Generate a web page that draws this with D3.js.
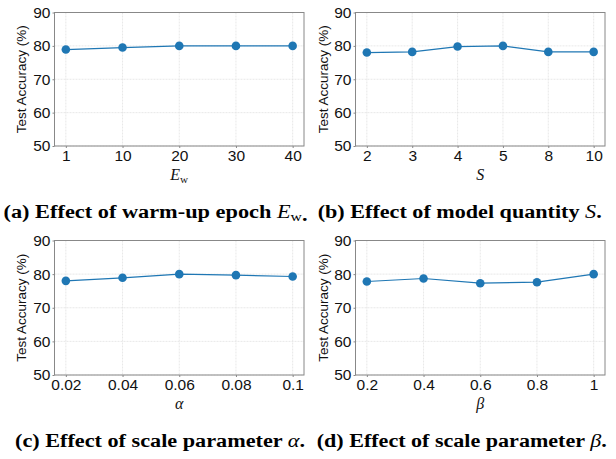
<!DOCTYPE html>
<html><head><meta charset="utf-8">
<script src="https://cdn.jsdelivr.net/npm/d3@7"></script>
<style>body{margin:0;background:#fff}svg{display:block}</style>
</head><body>
<script>
// ---- data ----
const ewTicks = ["1","10","20","30","40"];
const ewAcc = [78.9, 79.5, 80.0, 80.0, 80.0];
const sTicks = ["2","3","4","5","8","10"];
const sAcc = [78.0, 78.2, 79.8, 80.0, 78.2, 78.2];
const alphaTicks = ["0.02","0.04","0.06","0.08","0.1"];
const alphaAcc = [78.0, 78.9, 80.0, 79.7, 79.3];
const betaTicks = ["0.2","0.4","0.6","0.8","1"];
const betaAcc = [77.8, 78.7, 77.3, 77.6, 80.0];
const yTicks = [50, 60, 70, 80, 90];
const yLabel = "Test Accuracy (%)";

const W = 616, H = 459;
const svg = d3.select("body").append("svg").attr("width", W).attr("height", H);
const blue = "#1f77b4";

const panels = [
  {cats: ewTicks, vals: ewAcc, box: [54.5, 304, 12.5, 146], ylx: 21.5,
   xlab: [["E","it"],["w","sub"]],
   cap: [["(a) Effect of warm-up epoch ","b"],["E","it"],["w","sub"],[".","b"]], capX: 155.5, capY: 218, capW: 304},
  {cats: sTicks, vals: sAcc, box: [355.5, 605, 12.5, 146], ylx: 323,
   xlab: [["S","it"]],
   cap: [["(b) Effect of model quantity ","b"],["S","it"],[".","b"]], capX: 459.7, capY: 218, capW: 284},
  {cats: alphaTicks, vals: alphaAcc, box: [54.5, 304, 240.5, 375], ylx: 21.5,
   xlab: [["α","it"]],
   cap: [["(c) Effect of scale parameter ","b"],["α","it"],[".","b"]], capX: 160, capY: 447, capW: 290},
  {cats: betaTicks, vals: betaAcc, box: [355.5, 605, 240.5, 375], ylx: 323,
   xlab: [["β","it"]],
   cap: [["(d) Effect of scale parameter ","b"],["β","it"],[".","b"]], capX: 461.7, capY: 447, capW: 290}
];

function addRich(sel, parts, size) {
  parts.forEach(([t, s]) => {
    const ts = sel.append("tspan").text(t);
    if (s === "it") ts.attr("font-style", "italic").attr("font-weight", "normal");
    if (s === "b") ts.attr("font-weight", "bold");
    if (s === "sub") ts.attr("font-size", size * 0.7).attr("dy", size * 0.18).attr("font-weight", "normal");
  });
}

panels.forEach(p => {
  const [l, r, t, b] = p.box;
  const n = p.cats.length;
  const x = d3.scalePoint().domain(p.cats).range([l, r]).padding(0.05 * (n - 1));
  const y = d3.scaleLinear().domain([50, 90]).range([b, t]);
  const g = svg.append("g");

  // grid
  g.append("g").selectAll("line").data(p.cats).join("line")
    .attr("x1", d => x(d)).attr("x2", d => x(d)).attr("y1", t).attr("y2", b)
    .attr("stroke", "#e2e2e2").attr("stroke-width", 0.8).attr("stroke-dasharray", "2,1");
  g.append("g").selectAll("line").data(yTicks).join("line")
    .attr("x1", l).attr("x2", r).attr("y1", d => y(d)).attr("y2", d => y(d))
    .attr("stroke", "#e2e2e2").attr("stroke-width", 0.8).attr("stroke-dasharray", "2,1");

  // axes
  const ax = g.append("g").attr("transform", `translate(0,${b})`)
    .call(d3.axisBottom(x).tickSize(2).tickPadding(2));
  const ay = g.append("g").attr("transform", `translate(${l},0)`)
    .call(d3.axisLeft(y).tickValues(yTicks).tickSize(2).tickPadding(2));
  [ax, ay].forEach(a => {
    a.select(".domain").remove();
    a.selectAll(".tick line").attr("stroke", "#888");
    a.selectAll("text").attr("font-family", "'Liberation Sans', Arial, sans-serif")
      .attr("font-size", 15.5).attr("fill", "#111");
  });

  // frame
  g.append("rect").attr("x", l).attr("y", t).attr("width", r - l).attr("height", b - t)
    .attr("fill", "none").attr("stroke", "#888").attr("stroke-width", 1);

  // line + markers
  const data = p.cats.map((c, i) => [c, p.vals[i]]);
  g.append("path").datum(data)
    .attr("d", d3.line().x(d => x(d[0])).y(d => y(d[1])))
    .attr("fill", "none").attr("stroke", blue).attr("stroke-width", 1.2);
  g.append("g").selectAll("circle").data(data).join("circle")
    .attr("cx", d => x(d[0])).attr("cy", d => y(d[1])).attr("r", 4.3).attr("fill", blue);

  // y label
  g.append("text").attr("transform", `translate(${p.ylx},${(t + b) / 2}) rotate(-90)`)
    .attr("text-anchor", "middle").attr("dominant-baseline", "central")
    .attr("font-family", "'Liberation Sans', Arial, sans-serif").attr("font-size", 13.5)
    .attr("fill", "#111").text(yLabel);

  // x label
  const xl = g.append("text").attr("x", (l + r) / 2).attr("y", b + 34)
    .attr("text-anchor", "middle").attr("font-family", "'Liberation Serif', 'DejaVu Serif', serif")
    .attr("font-size", 16).attr("fill", "#111");
  addRich(xl, p.xlab, 16);

  // caption
  const cp = g.append("text").attr("x", p.capX).attr("y", p.capY)
    .attr("text-anchor", "middle").attr("font-family", "'Liberation Serif', 'DejaVu Serif', serif")
    .attr("font-size", 18).attr("fill", "#000");
  addRich(cp, p.cap, 18);
  cp.attr("textLength", p.capW).attr("lengthAdjust", "spacingAndGlyphs");
});
</script>
</body></html>
